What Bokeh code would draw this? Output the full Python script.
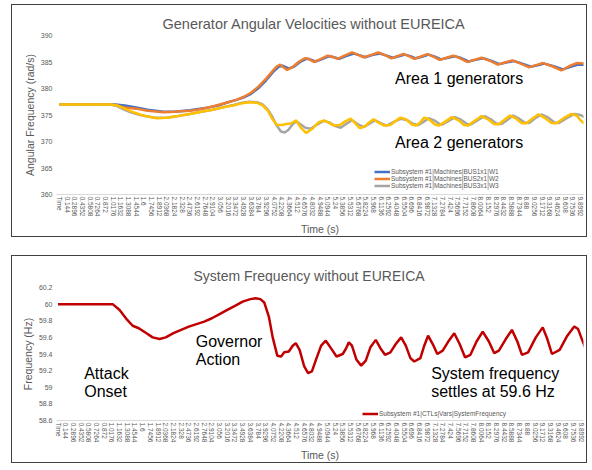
from bokeh.plotting import figure
from bokeh.models import FixedTicker, Legend, LegendItem, Label, Spacer, Range1d
from bokeh.layouts import column, row
from bokeh.embed import file_html
from bokeh.resources import INLINE

# ---------------- data ----------------
time_labels = ["Time", "0.144", "0.2896", "0.4352", "0.5808", "0.7264", "0.872", "1.0176", "1.1632",
               "1.3088", "1.4544", "1.6", "1.7456", "1.8912", "2.0368", "2.1824", "2.328", "2.4736",
               "2.6192", "2.7648", "2.9104", "3.056", "3.2016", "3.3472", "3.4928", "3.6384", "3.784",
               "3.9296", "4.0752", "4.2208", "4.3664", "4.512", "4.6576", "4.8032", "4.9488", "5.0944",
               "5.24", "5.3856", "5.5312", "5.6768", "5.8224", "5.968", "6.1136", "6.2592", "6.4048",
               "6.5504", "6.696", "6.8416", "6.9872", "7.1328", "7.2784", "7.424", "7.5696", "7.7152",
               "7.8608", "8.0064", "8.152", "8.2976", "8.4432", "8.5888", "8.7344", "8.88", "9.0256",
               "9.1712", "9.3168", "9.4624", "9.608", "9.7536", "9.8992"]
tick_pos = list(range(len(time_labels)))

# Generator W1 (blue): position (category index), value (rad/s)
pos_w1 = [0, 7.3, 8.5, 10, 11.5, 13.6, 15, 17, 19, 21, 22, 23, 24, 25, 26, 27, 28, 28.6, 29.1, 29.9,
          30.6, 31.4, 32.2, 32.7, 33.4, 34.2, 35.2, 35.8, 36.5, 37.4, 38.4, 39.1, 39.9, 40.8, 41.8,
          42.7, 43.5, 44.3, 45.1, 45.8, 46.5, 47.3, 48.2, 49.0, 49.8, 50.7, 51.6, 52.5, 53.4, 54.3,
          55.3, 56.4, 57.4, 58.3, 59.3, 60.4, 61.5, 62.4, 63.3, 64.5, 65.7, 66.7, 67.7, 68.5]
w1 = [377.0, 377.0, 376.8, 376.4, 376.0, 375.6, 375.6, 375.9, 376.3, 376.9, 377.4, 377.8, 378.3,
      379.0, 380.1, 381.6, 383.3, 384.1, 384.3, 383.8, 384.1, 385.0, 385.6, 385.5, 385.1, 385.5,
      386.1, 385.9, 385.6, 386.1, 386.6, 386.3, 385.9, 386.3, 386.6, 386.2, 385.8, 386.1, 386.4,
      386.1, 385.7, 386.0, 386.4, 386.0, 385.5, 385.8, 386.1, 385.7, 385.1, 385.4, 385.7, 385.2,
      384.6, 384.9, 385.2, 384.7, 384.1, 384.4, 384.7, 384.2, 383.6, 384.1, 384.5, 384.5]

# Generator W2 (orange)
pos_w2 = [0, 6.7, 7.5, 8.5, 10, 11.5, 13.6, 15, 17, 18, 20, 22, 23, 24, 25, 26, 27, 28, 28.4, 28.8,
          29.7, 30.4, 31.2, 32.0, 32.5, 33.2, 34.0, 35.0, 35.6, 36.3, 37.2, 38.2, 38.9, 39.7, 40.6,
          41.6, 42.5, 43.3, 44.1, 44.9, 45.6, 46.3, 47.1, 48.0, 48.8, 49.6, 50.5, 51.4, 52.3, 53.2,
          54.1, 55.1, 56.2, 57.2, 58.1, 59.1, 60.2, 61.3, 62.2, 63.1, 64.3, 65.5, 66.5, 67.5, 68.5]
w2 = [377.0, 377.0, 376.8, 376.4, 376.2, 375.8, 375.5, 375.6, 375.8, 376.0, 376.6, 377.4, 377.8,
      378.4, 379.2, 380.4, 381.9, 383.6, 384.2, 384.5, 383.5, 384.0, 385.0, 385.7, 385.6, 385.0,
      385.5, 386.2, 386.0, 385.6, 386.2, 386.8, 386.4, 385.9, 386.3, 386.8, 386.3, 385.7, 386.1,
      386.5, 386.1, 385.6, 386.0, 386.5, 386.0, 385.4, 385.8, 386.2, 385.7, 385.0, 385.4, 385.8,
      385.2, 384.5, 384.9, 385.3, 384.7, 384.0, 384.4, 384.8, 384.2, 383.4, 384.2, 384.8, 384.7]

# Generator W3 (gray)
pos_w3 = [0, 6.5, 7.3, 8.3, 9.3, 10.5, 11.5, 12.5, 14, 15.5, 17, 18.5, 20, 21.5, 22.7, 23.8, 24.8,
          25.8, 26.5, 27.2, 27.8, 28.3, 28.9, 29.4, 29.9, 30.4, 30.9, 31.5, 32.1, 32.8, 33.6, 34.5,
          35.2, 36.0, 36.7, 37.4, 38.2, 38.9, 39.7, 40.4, 41.2, 42.0, 42.7, 43.5, 44.6, 45.4, 46.2,
          46.8, 47.5, 48.2, 48.9, 49.6, 50.0, 50.8, 51.6, 52.4, 53.2, 53.7, 54.6, 55.5, 56.3, 57.0,
          57.7, 58.4, 59.2, 60.0, 60.7, 61.3, 62.0, 62.9, 63.8, 64.6, 65.2, 66.2, 67.2, 68.0, 68.5]
w3 = [377.0, 377.0, 376.8, 376.1, 375.5, 375.0, 374.7, 374.5, 374.5, 374.8, 375.2, 375.6, 376.0,
      376.5, 376.9, 377.3, 377.5, 377.4, 377.0, 376.0, 374.6, 373.1, 371.9, 371.7, 372.2, 373.2,
      373.8, 373.2, 372.6, 372.4, 373.2, 373.9, 373.6, 372.9, 372.6, 373.3, 374.0, 373.3, 372.7,
      373.3, 374.0, 373.4, 373.0, 373.6, 374.3, 374.0, 373.3, 373.1, 373.7, 374.4, 374.0, 373.3,
      373.2, 373.9, 374.6, 374.1, 373.3, 373.2, 374.0, 374.8, 374.2, 373.4, 373.3, 374.0, 374.9,
      374.3, 373.6, 373.5, 374.3, 375.1, 374.5, 373.6, 373.5, 374.4, 375.2, 375.0, 374.6]

# Generator 4 (yellow, not in legend)
pos_w4 = [0, 6.7, 7.5, 8.5, 9.5, 10.5, 11.5, 12.7, 14, 15.5, 17, 18.5, 20, 21.5, 22.7, 23.8, 24.8,
          25.8, 26.5, 27.2, 27.8, 28.4, 29.0, 29.6, 30.2, 30.9, 31.5, 32.2, 33.0, 33.8, 34.5, 35.2,
          35.8, 36.6, 37.3, 38.0, 38.6, 39.2, 40.0, 40.4, 41.0, 41.7, 42.4, 43.2, 43.8, 44.5, 45.2,
          46.0, 46.5, 47.0, 47.6, 48.3, 49.0, 49.5, 50.3, 51.2, 52.1, 52.8, 53.3, 54.2, 55.1, 56.0,
          56.7, 57.3, 58.0, 58.8, 59.6, 60.3, 60.9, 61.6, 62.5, 63.4, 64.2, 64.8, 65.8, 66.8, 67.5,
          68.0, 68.5]
w4 = [377.0, 377.0, 376.8, 376.2, 375.6, 375.1, 374.7, 374.4, 374.5, 374.8, 375.2, 375.6, 376.0,
      376.5, 376.8, 377.2, 377.4, 377.3, 376.8, 375.8, 374.2, 373.1, 373.1, 373.3, 373.4, 374.0,
      372.6, 371.6, 372.4, 373.6, 374.0, 373.5, 373.0, 373.1, 373.8, 374.3, 373.4, 372.5, 373.0,
      373.6, 374.2, 373.5, 373.0, 373.1, 373.8, 374.5, 374.2, 373.2, 373.0, 373.5, 374.5, 374.1,
      373.2, 373.0, 373.7, 374.6, 374.0, 373.1, 373.0, 373.9, 374.8, 374.1, 373.3, 373.2, 374.0,
      374.9, 374.3, 373.5, 373.4, 374.2, 375.1, 374.4, 373.5, 373.4, 374.4, 375.2, 374.9, 374.0,
      373.4]

# System frequency (Hz)
pos_f = [0, 7.1, 8.0, 9.0, 9.7, 10.5, 11.5, 12.3, 13.2, 14.0, 15.0, 16.0, 17.0, 18.0, 19.0, 20.0,
         21.0, 22.0, 23.0, 24.0, 25.0, 25.7, 26.3, 26.8, 27.4, 27.9, 28.5, 29.0, 29.4, 30.0, 30.5,
         30.9, 31.4, 32.0, 32.5, 33.0, 33.6, 34.2, 34.8, 35.4, 36.2, 37.0, 37.4, 37.8, 38.2, 38.8,
         39.4, 40.0, 40.6, 41.3, 41.9, 42.5, 43.2, 43.9, 44.6, 45.2, 45.8, 46.3, 47.1, 47.6, 48.1,
         48.7, 49.3, 50.0, 50.8, 51.5, 52.2, 52.9, 53.6, 54.4, 55.2, 56.0, 56.7, 57.3, 58.2, 59.0,
         59.7, 60.3, 61.1, 62.1, 63.0, 63.6, 64.2, 65.2, 66.2, 67.1, 67.6, 68.0, 68.5]
freq = [60.0, 60.0, 59.93, 59.81, 59.74, 59.71, 59.65, 59.60, 59.58, 59.60, 59.65, 59.69, 59.73,
        59.76, 59.79, 59.83, 59.88, 59.93, 59.98, 60.03, 60.06, 60.07, 60.06, 60.02, 59.85, 59.60,
        59.38, 59.37, 59.42, 59.43, 59.50, 59.53, 59.45, 59.25, 59.17, 59.19, 59.35, 59.50, 59.56,
        59.48, 59.37, 59.40, 59.46, 59.54, 59.50, 59.33, 59.26, 59.32, 59.48, 59.57, 59.47, 59.39,
        59.42, 59.52, 59.60, 59.50, 59.35, 59.31, 59.35, 59.50, 59.62, 59.52, 59.40, 59.44, 59.56,
        59.65, 59.52, 59.36, 59.39, 59.55, 59.67, 59.55, 59.41, 59.44, 59.58, 59.69, 59.55, 59.39,
        59.42, 59.60, 59.72, 59.58, 59.40, 59.45, 59.62, 59.73, 59.70, 59.60, 59.48]

w_ticks = [360, 365, 370, 375, 380, 385, 390]
f_ticks = [58.6, 58.8, 59.0, 59.2, 59.4, 59.6, 59.8, 60.0, 60.2]
f_tick_labels = ["58.6", "58.8", "59", "59.2", "59.4", "59.6", "59.8", "60", "60.2"]

names = ["Subsystem #1|Machines|BUS1x1|W1", "Subsystem #1|Machines|BUS2x1|W2",
         "Subsystem #1|Machines|BUS3x1|W3"]
freq_name = "Subsystem #1|CTLs|Vars|SystemFrequency"

# ---------------- style ----------------
FONT = "Liberation Sans"
GREY = "#595959"


def base_fig(height, title, x_range, y_range, ml, mt, mb, title_offset, title_size):
    p = figure(width=576, height=height, output_backend="svg", toolbar_location=None,
               x_range=x_range, y_range=y_range, min_border_left=ml, min_border_right=5,
               min_border_top=mt, min_border_bottom=mb)
    p.styles = {"border": "1.5px solid #404040"}
    p.outline_line_color = None
    p.background_fill_color = "white"
    p.border_fill_color = "white"
    p.xgrid.grid_line_color = None
    p.ygrid.grid_line_color = None
    p.title.text = title
    p.title.text_font = FONT
    p.title.text_font_size = title_size
    p.title.text_font_style = "normal"
    p.title.text_color = GREY
    p.title.align = "left"
    p.title.offset = title_offset
    p.title.standoff = 7
    xa = p.xaxis[0]
    xa.ticker = FixedTicker(ticks=tick_pos)
    xa.major_label_overrides = {i: s for i, s in zip(tick_pos, time_labels)}
    xa.major_label_orientation = "vertical"
    xa.major_label_text_font = FONT
    xa.major_label_text_font_size = "6.5px"
    xa.major_label_text_color = GREY
    xa.major_label_standoff = 2
    xa.major_tick_line_color = None
    xa.minor_tick_line_color = None
    xa.major_tick_out = 0
    xa.major_tick_in = 0
    xa.minor_tick_out = 0
    xa.axis_line_color = "#d9d9d9"
    xa.axis_label = "Time (s)"
    xa.axis_label_text_font = FONT
    xa.axis_label_text_font_size = "10.5px"
    xa.axis_label_text_font_style = "normal"
    xa.axis_label_text_color = GREY
    xa.axis_label_standoff = 4
    ya = p.yaxis[0]
    ya.major_label_text_font = FONT
    ya.major_label_text_font_size = "7px"
    ya.major_label_text_color = GREY
    ya.major_label_standoff = 4
    ya.major_tick_line_color = None
    ya.minor_tick_line_color = None
    ya.major_tick_out = 0
    ya.major_tick_in = 0
    ya.minor_tick_out = 0
    ya.axis_line_color = None
    ya.axis_label_text_font = FONT
    ya.axis_label_text_font_size = "10.5px"
    ya.axis_label_text_font_style = "normal"
    ya.axis_label_text_color = GREY
    ya.axis_label_standoff = 2
    return p


def note(p, x, y, text):
    p.add_layout(Label(x=x, y=y, text=text, text_font=FONT, text_font_size="16px",
                       text_color="black", text_baseline="middle", text_align="left"))


def make_legend(items, loc):
    return Legend(items=items, location=loc, label_text_font=FONT, label_text_font_size="6.5px",
                  label_text_color=GREY, glyph_width=16, glyph_height=5, label_height=5,
                  label_standoff=1, spacing=0, padding=0, margin=0,
                  background_fill_alpha=0, border_line_color=None)


# ---------------- top chart ----------------
p1 = base_fig(233, "Generator Angular Velocities without EUREICA",
              Range1d(-0.39, 68.39), Range1d(360, 390), 40, 30, 44, 106, "14.5px")
p1.yaxis[0].ticker = FixedTicker(ticks=w_ticks)
p1.yaxis[0].axis_label = "Angular Frequency (rad/s)"

r1 = p1.line(pos_w1, w1, line_color="#4472C4", line_width=2.5)
r2 = p1.line(pos_w2, w2, line_color="#ED7D31", line_width=2.5)
r3 = p1.line(pos_w3, w3, line_color="#A5A5A5", line_width=2.5)
r4 = p1.line(pos_w4, w4, line_color="#FFC000", line_width=2.5)

p1.add_layout(make_legend([LegendItem(label=n, renderers=[r])
                           for n, r in zip(names, [r1, r2, r3])], (318, 5)))
note(p1, 43.8, 381.9, "Area 1 generators")
note(p1, 43.8, 369.9, "Area 2 generators")

# ---------------- bottom chart ----------------
p2 = base_fig(208, "System Frequency without EUREICA",
              Range1d(-0.2, 68.3), Range1d(58.6, 60.2), 44, 31, 40, 137, "14px")
p2.yaxis[0].ticker = FixedTicker(ticks=f_ticks)
p2.yaxis[0].major_label_overrides = {v: s for v, s in zip(f_ticks, f_tick_labels)}
p2.yaxis[0].axis_label = "Frequency (Hz)"

rf = p2.line(pos_f, freq, line_color="#C00000", line_width=2.5)
p2.add_layout(make_legend([LegendItem(label=freq_name, renderers=[rf])], (306, 3)))
note(p2, 3.4, 59.17, "Attack")
note(p2, 3.4, 58.946, "Onset")
note(p2, 17.9, 59.555, "Governor")
note(p2, 17.9, 59.33, "Action")
note(p2, 48.5, 59.17, "System frequency")
note(p2, 48.5, 58.946, "settles at 59.6 Hz")

layout = row(Spacer(width=11), column(Spacer(height=4), p1, Spacer(height=18), p2))
open("out.html", "w").write(file_html(layout, INLINE))
